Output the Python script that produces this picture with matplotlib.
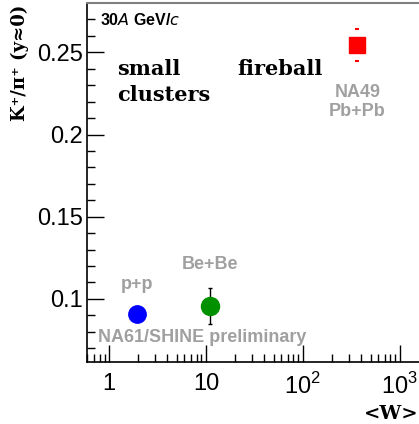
import numpy as np
import matplotlib.pyplot as plt

plt.rcParams['font.family'] = ['Liberation Sans', 'DejaVu Sans']
plt.rcParams['xtick.direction'] = 'in'
plt.rcParams['ytick.direction'] = 'in'
plt.rcParams['mathtext.fontset'] = 'custom'
plt.rcParams['mathtext.rm'] = 'Liberation Sans'

# data
systems = ["p+p", "Be+Be", "NA49\nPb+Pb"]
w_mean = [1.95, 11.0, 365.0]
k_pi = [0.091, 0.0958, 0.2545]
k_pi_err = [0.0, 0.011, 0.0095]
colors = ["#0000ff", "#009000", "#ff0000"]
markers = ["o", "o", "s"]

gray = "#a0a0a0"

fig = plt.figure(figsize=(4.19, 4.24), dpi=100)
ax = fig.add_axes([87/419, 62/424, 359/419, 359/424])

ax.set_xscale('log')
ax.set_xlim(0.593, 3000)
ax.set_ylim(0.0616, 0.28)

# p+p
ax.plot(w_mean[0], k_pi[0], marker=markers[0], color=colors[0],
        markersize=12.5, linestyle='none', zorder=3)
# Be+Be
ax.errorbar(w_mean[1], k_pi[1], yerr=k_pi_err[1], fmt=markers[1],
            color=colors[1], ecolor='black', elinewidth=1, capsize=1.5,
            markersize=13, zorder=3)
# Pb+Pb: only caps of error visible
ax.errorbar(w_mean[2], k_pi[2], yerr=k_pi_err[2], fmt=markers[2],
            color=colors[2], ecolor=colors[2], elinewidth=0, capsize=1.5,
            capthick=1.5, markersize=12, zorder=3)

# ticks
ax.set_yticks([0.1, 0.15, 0.2, 0.25])
ax.set_yticklabels(["0.1", "0.15", "0.2", "0.25"])
ax.set_yticks(np.arange(0.07, 0.28, 0.01), minor=True)
ax.set_xticks([1, 10, 100, 1000])
ax.set_xticklabels(["1", "10", "$10^2$", "$10^3$"])
ax.tick_params(which='major', length=12, width=1, labelsize=17)
ax.tick_params(which='minor', length=6, width=1)
ax.tick_params(axis='y', which='major', pad=3)
ax.tick_params(axis='x', which='major', pad=8)

ax.spines['top'].set_color('#808080')
ax.spines['top'].set_linewidth(1.5)
ax.spines['left'].set_linewidth(1.2)
ax.spines['bottom'].set_linewidth(1.2)
ax.spines['right'].set_visible(False)

# texts
fig.text(100/419, 1 - 20/424, "30$\\it{A}$ GeV/$\\it{c}$", fontsize=11.5,
         fontweight='bold', ha='left', va='center')
fig.text(117/419, 1 - 69/424, "small", family='DejaVu Serif',
         fontweight='bold', fontsize=15, ha='left', va='center')
fig.text(117/419, 1 - 95/424, "clusters", family='DejaVu Serif',
         fontweight='bold', fontsize=15, ha='left', va='center')
fig.text(237/419, 1 - 69/424, "fireball", family='DejaVu Serif',
         fontweight='bold', fontsize=15, ha='left', va='center')

ax.annotate(systems[2], (w_mean[2], k_pi[2]), xytext=(0, -41),
            textcoords='offset points', ha='center', va='center',
            color=gray, fontweight='bold', fontsize=13, linespacing=1.15)
ax.annotate(systems[0], (w_mean[0], k_pi[0]), xytext=(0, 21),
            textcoords='offset points', ha='center', va='center',
            color=gray, fontweight='bold', fontsize=13)
ax.annotate(systems[1], (w_mean[1], k_pi[1]), xytext=(0, 30),
            textcoords='offset points', ha='center', va='center',
            color=gray, fontweight='bold', fontsize=13)
fig.text(98/419, 1 - 337/424, "NA61/SHINE preliminary", color=gray,
         fontweight='bold', fontsize=13, ha='left', va='center')

fig.text(20/419, 1 - 5/424, "K⁺/π⁺ (y≈0)", family='DejaVu Serif',
         fontweight='bold', fontsize=13, rotation=90, ha='center', va='top')
fig.text(418/419, 1 - 414/424, "<W>", family='DejaVu Serif',
         fontweight='bold', fontsize=14, ha='right', va='center')

fig.savefig("out.png", dpi=100)
